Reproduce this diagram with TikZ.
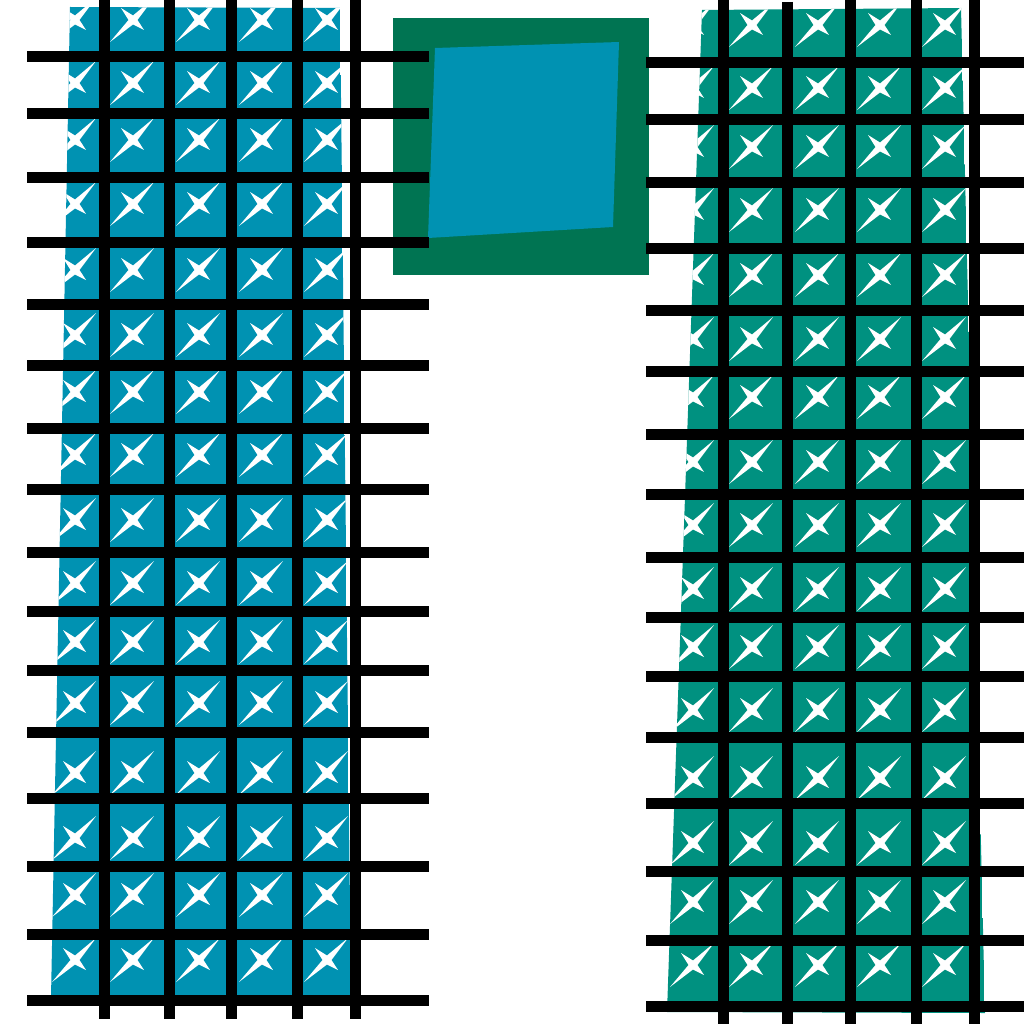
\documentclass[tikz,border=0pt]{standalone}
\usepackage{tikz}
\definecolor{panelblue}{RGB}{0,146,178}
\definecolor{panelgreen}{RGB}{0,145,128}
\definecolor{framegreen}{RGB}{0,116,82}

\begin{document}
\begin{tikzpicture}
      [
        x=0.1mm, y=-0.1mm,
        barstyle/.style={draw=black, line width=1.1mm},
        sparkle/.pic={
          \fill[white] (21,-22) -- (0,-4.5) -- (-12,-12) -- (-4.5,0)
            -- (-23,22) -- (0,4.5) -- (11,10) -- (4.5,0) -- cycle;
        }
      ]

      \useasboundingbox (0,0) rectangle (1024,1024);

      \begin{scope}
        \clip (70,7) -- (340,8) -- (351,998) -- (51,998) -- cycle;
        \fill[panelblue] (70,7) -- (340,8) -- (351,998) -- (51,998) -- cycle;
        \foreach \sx in {75,133,199,262,327}
          \foreach \sy in {20,83,140,204,270,335,392,455,520,583,642,703,773,838,895,960}
            \pic at (\sx,\sy) {sparkle};
      \end{scope}

      \begin{scope}
        \clip (702,10) -- (961,8) -- (985,1013) -- (667,1012) -- cycle;
        \fill[panelgreen] (702,10) -- (961,8) -- (985,1013) -- (667,1012) -- cycle;
        \foreach \sx in {693,752,818,880,945}
          \foreach \sy in {25,88,147,210,275,339,397,462,525,589,647,710,778,843,902,965}
            \pic at (\sx,\sy) {sparkle};
      \end{scope}

      \fill[framegreen] (393,18) rectangle (649,275);
      \fill[panelblue] (435,48) -- (619,42) -- (613,227) -- (428,238) -- cycle;

      \foreach \ly in {57,114,178,242,304,365,428,489,552,611,670,732,798,866,934,1000}
        \draw[barstyle] (27,\ly) -- (429,\ly);
      \foreach \lx in {104,169,231,297,355}
        \draw[barstyle] (\lx,0) -- (\lx,1019);

      \foreach \ly in {63,120,183,248,310,371,434,494,557,617,676,737,803,871,940,1006}
        \draw[barstyle] (646,\ly) -- (1024,\ly);
      \foreach \lx in {723,850,916,974}
        \draw[barstyle] (\lx,0) -- (\lx,1024);
      \draw[barstyle] (787,2) -- (787,1024);

    \end{tikzpicture}
\end{document}
